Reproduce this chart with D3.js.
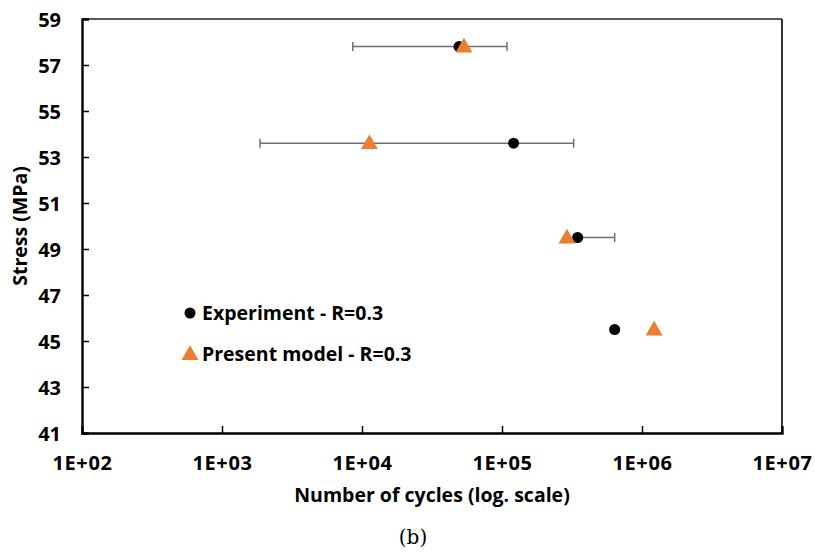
<!DOCTYPE html>
<html>
<head>
<meta charset="utf-8">
<script src="https://cdn.jsdelivr.net/npm/d3@7"></script>
<style>
  html, body { margin: 0; padding: 0; background: #fff; }
  svg { display: block; }
  text { font-family: "Open Sans", "Noto Sans", sans-serif; font-weight: 700; fill: #000; }
</style>
</head>
<body>
<svg id="chart" width="815" height="552"></svg>
<script>
// Fatigue data: stress level vs. number of cycles to failure
const stressLevels = [57.8, 53.6, 49.5, 45.5];
const experimentCycles = [49300, 121000, 347000, 638000];
const experimentLow = [8600, 1870, 347000, 638000];
const experimentHigh = [108600, 325000, 638000, 638000];
const modelCycles = [53500, 11300, 291000, 1220000];

const xTickValues = [1e2, 1e3, 1e4, 1e5, 1e6, 1e7];
const xTickLabels = ["1E+02", "1E+03", "1E+04", "1E+05", "1E+06", "1E+07"];
const yTickValues = [41, 43, 45, 47, 49, 51, 53, 55, 57, 59];

const legendLabels = ["Experiment - R=0.3", "Present model - R=0.3"];

const orange = "#ED7D31";
const errGrey = "#707070";

const svg = d3.select("#chart");

const x = d3.scaleLog().domain([1e2, 1e7]).range([82, 782]);
const y = d3.scaleLinear().domain([41, 59]).range([433, 19]);

// frame: top and right
svg.append("line").attr("x1", x(1e2)).attr("x2", x(1e7)).attr("y1", y(59)).attr("y2", y(59))
  .attr("stroke", "#222").attr("stroke-width", 1.6);
svg.append("line").attr("x1", x(1e7)).attr("x2", x(1e7)).attr("y1", y(59)).attr("y2", y(41))
  .attr("stroke", "#333").attr("stroke-width", 2);

// x axis (ticks point inward)
const xAxis = d3.axisBottom(x)
  .tickValues(xTickValues)
  .tickSize(-7)
  .tickFormat((d, i) => xTickLabels[i]);
const gx = svg.append("g").attr("transform", `translate(0,${y(41)})`).call(xAxis);
gx.select(".domain").attr("stroke", "#000").attr("stroke-width", 2.4);
gx.selectAll(".tick line").attr("stroke", "#000").attr("stroke-width", 1.5)
  .attr("opacity", d => (d === 1e2 || d === 1e7) ? 0 : 1);
gx.selectAll(".tick text").attr("y", 30).attr("dy", "0.34em")
  .style("font-size", "20px").style("letter-spacing", "0.6px")
  .style("font-family", "'Open Sans', sans-serif").style("font-weight", 700);

// y axis (ticks point inward)
const yAxis = d3.axisLeft(y)
  .tickValues(yTickValues)
  .tickSize(-7)
  .tickFormat(d3.format("d"));
const gy = svg.append("g").attr("transform", `translate(${x(1e2)},0)`).call(yAxis);
gy.select(".domain").attr("stroke", "#000").attr("stroke-width", 2.4);
gy.selectAll(".tick line").attr("stroke", "#000").attr("stroke-width", 1.5)
  .attr("opacity", d => (d === 41 || d === 59) ? 0 : 1);
gy.selectAll(".tick text").attr("x", -21).attr("dy", "0.36em")
  .style("font-size", "20px").style("font-family", "'Open Sans', sans-serif").style("font-weight", 700);

// axis titles
svg.append("text")
  .attr("x", 432).attr("y", 502)
  .attr("text-anchor", "middle")
  .style("font-size", "19.5px")
  .text("Number of cycles (log. scale)");
svg.append("text")
  .attr("transform", `translate(27,226) rotate(-90)`)
  .attr("text-anchor", "middle")
  .style("font-size", "19.5px")
  .text("Stress (MPa)");

// caption
svg.append("text")
  .attr("x", 413).attr("y", 544)
  .attr("text-anchor", "middle")
  .style("font-family", "'DejaVu Serif', 'Liberation Serif', serif")
  .style("font-weight", 400)
  .style("font-size", "20px")
  .text("(b)");

// error bars for experimental data
const errG = svg.append("g");
stressLevels.forEach((s, i) => {
  const lo = experimentLow[i], hi = experimentHigh[i];
  if (lo === hi) return;
  const yy = y(s);
  errG.append("line").attr("x1", x(lo)).attr("x2", x(hi)).attr("y1", yy).attr("y2", yy)
    .attr("stroke", errGrey).attr("stroke-width", 1.5);
  [lo, hi].forEach(v => {
    errG.append("line").attr("x1", x(v)).attr("x2", x(v)).attr("y1", yy - 4.5).attr("y2", yy + 4.5)
      .attr("stroke", errGrey).attr("stroke-width", 1.5);
  });
});

// experimental points
svg.append("g").selectAll("circle")
  .data(stressLevels)
  .join("circle")
  .attr("cx", (d, i) => x(experimentCycles[i]))
  .attr("cy", d => y(d))
  .attr("r", 5.5)
  .attr("fill", "#000");

// model predictions
const tri = d3.symbol().type(d3.symbolTriangle).size(125);
svg.append("g").selectAll("path")
  .data(stressLevels)
  .join("path")
  .attr("d", tri)
  .attr("transform", (d, i) => `translate(${x(modelCycles[i])},${y(d) + 1})`)
  .attr("fill", orange);

// legend
const legend = svg.append("g");
legend.append("circle").attr("cx", 190).attr("cy", 313).attr("r", 5.5).attr("fill", "#000");
legend.append("path").attr("d", tri).attr("transform", "translate(190,355)").attr("fill", orange);
legend.selectAll("text")
  .data(legendLabels)
  .join("text")
  .attr("x", 202)
  .attr("y", (d, i) => 313 + i * 41)
  .attr("dy", "0.35em")
  .style("font-size", "19.5px")
  .text(d => d);
</script>
</body>
</html>
